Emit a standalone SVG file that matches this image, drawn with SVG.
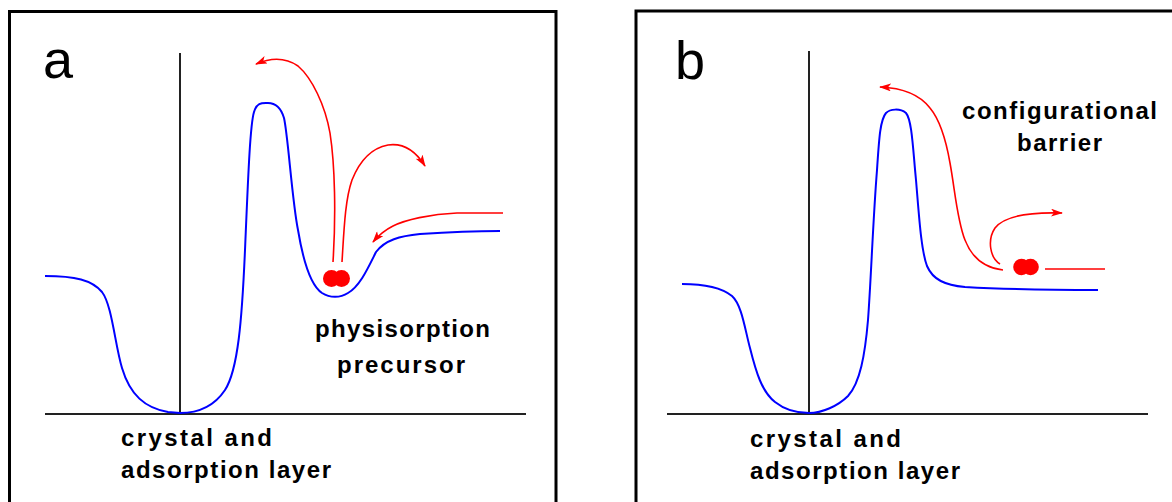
<svg xmlns="http://www.w3.org/2000/svg" width="1172" height="502" viewBox="0 0 1172 502">
<style>
.frame{fill:none;stroke:#000;stroke-width:3}
.axis{fill:none;stroke:#222;stroke-width:2}
.pot{fill:none;stroke:#0000ff;stroke-width:2}
.path{fill:none;stroke:#ff0000;stroke-width:1.6}
.arr{marker-end:url(#ah)}
.mol{fill:#ff0000}
.lbl{font-family:"Liberation Sans",Arial,sans-serif;font-weight:bold;font-size:24px;fill:#000}
.pl{font-family:"Liberation Sans",Arial,sans-serif;font-size:54px;fill:#000}
</style>
<defs>
<marker id="ah" viewBox="0 0 12 8" refX="11" refY="4" markerWidth="12" markerHeight="8" markerUnits="userSpaceOnUse" orient="auto">
<path d="M0,0 L12,4 L0,8 L3,4 z" fill="#ff0000"/>
</marker>
</defs>
<rect id="frame-a" class="frame" x="9.5" y="11.5" width="546.5" height="520"/>
<rect id="frame-b" class="frame" x="636" y="11" width="560" height="520"/>
<g id="panel-a">
<text class="pl" x="43" y="78">a</text>
<line class="axis" x1="45" y1="414" x2="526" y2="414"/>
<line class="axis" x1="180" y1="53" x2="180" y2="414"/>
<path id="potential-a" class="pot" d="M45,276 C75,276 92,280 102,292 C112,305 115,345 122,368 C130,395 145,408 168,412 L180,413 C200,413 215,405 225,390 C238,370 242,320 245,250 C248,180 250,125 254,112 C257,102 262,103 268,103 C276,103 281,108 284,118 C288,135 292,200 298,230 C303,260 310,285 322,293 C330,298 340,298 348,293 C360,286 368,268 376,252 C385,240 400,236 420,234 C450,232 480,231 500,231"/>
<g id="connectors-a">
<path class="path arr" d="M333,262 C336,215 335,165 330,133 C325,105 312,78 298,66 C285,57 270,58 256,64"/>
<path class="path arr" d="M342,262 C344,230 345,200 352,180 C360,160 372,148 388,145 C402,143 415,150 425,166"/>
<path class="path arr" d="M503,213 L457,213 C430,214 405,220 393,226 C385,230 378,236 373,242"/>
</g>
<g id="molecule-a" class="mol">
<circle cx="331.5" cy="278.5" r="8.5"/>
<circle cx="341.5" cy="278.5" r="8.5"/>
</g>
<text class="lbl" x="315" y="337" textLength="175" lengthAdjust="spacing">physisorption</text>
<text class="lbl" x="337" y="373" textLength="128" lengthAdjust="spacing">precursor</text>
<text class="lbl" x="121" y="446" textLength="151" lengthAdjust="spacing">crystal and</text>
<text class="lbl" x="121" y="478" textLength="210" lengthAdjust="spacing">adsorption layer</text>
</g>
<g id="panel-b">
<text class="pl" x="675" y="79">b</text>
<line class="axis" x1="667" y1="414" x2="1148" y2="414"/>
<line class="axis" x1="809" y1="51" x2="809" y2="414"/>
<path id="potential-b" class="pot" d="M682,284 C705,284 722,288 732,296 C742,305 745,330 750,348 C756,372 762,392 775,402 C785,410 798,413 809,413 C822,413 838,406 848,396 C860,383 865,355 868,320 C871,280 873,220 877,170 C879,140 880,120 886,113 C890,109 900,108 906,113 C912,120 913,150 916,180 C919,215 921,250 927,266 C933,280 945,285 965,287 C1000,289 1050,290 1098,290"/>
<g id="connectors-b">
<path class="path arr" d="M1003,270 C985,268 972,258 965,240 C957,220 955,190 950,163 C946,140 940,120 930,108 C920,95 905,88 880,87"/>
<path class="path arr" d="M1000,264 C990,258 987,240 995,228 C1005,215 1030,212 1062,213"/>
<path class="path" d="M1045,269 L1105,269"/>
</g>
<g id="molecule-b" class="mol">
<circle cx="1021.5" cy="267" r="8.3"/>
<circle cx="1030.5" cy="267" r="8.3"/>
</g>
<text class="lbl" x="962" y="119" textLength="195" lengthAdjust="spacing">configurational</text>
<text class="lbl" x="1017" y="151" textLength="85" lengthAdjust="spacing">barrier</text>
<text class="lbl" x="750" y="447" textLength="151" lengthAdjust="spacing">crystal and</text>
<text class="lbl" x="750" y="479" textLength="210" lengthAdjust="spacing">adsorption layer</text>
</g>
</svg>
